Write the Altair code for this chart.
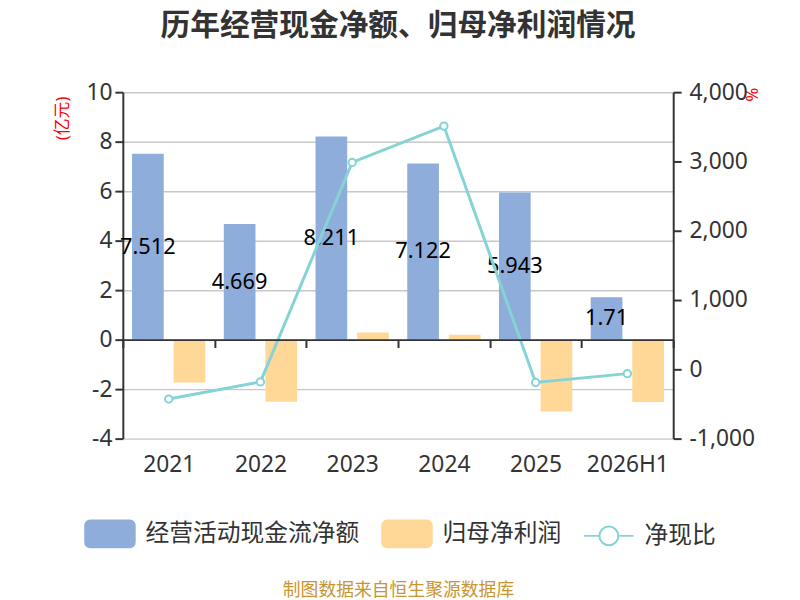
import altair as alt
import pandas as pd

# ---- data ----
cats = ["2021", "2022", "2023", "2024", "2025", "2026H1"]
ocf = [7.512, 4.669, 8.211, 7.122, 5.943, 1.71]
netprofit = [-1.73, -2.51, 0.29, 0.20, -2.90, -2.52]
ratio = [-429, -181, 2986, 3510, -190, -62]
series = ["经营活动现金流净额", "归母净利润", "净现比"]
left_ticks = [-4, -2, 0, 2, 4, 6, 8, 10]
right_ticks = [-1000, 0, 1000, 2000, 3000, 4000]

BLUE, ORANGE, CYAN = "#8eaddb", "#ffd898", "#86d3d6"
TXT = "#333333"
FONT = "Noto Sans, Noto Sans CJK SC, sans-serif"
HYPHEN = "replace(datum.label, '\u2212', '-')"

W, H = 556, 350
ydom = [-4, 10]
rdom = [-1000, 4000]
zero_pos = H * ydom[1] / (ydom[1] - ydom[0])   # pixel y of value 0 from top
zero_offset = -(H - zero_pos)                   # move bottom axis up to y = 0

bars_df = pd.DataFrame({
    "cat": cats * 2,
    "series": [series[0]] * len(cats) + [series[1]] * len(cats),
    "value": ocf + netprofit,
})
labels_df = pd.DataFrame({
    "cat": cats,
    "series": [series[0]] * len(cats),
    "value": ocf,
    "text": [f"{v:g}" for v in ocf],
})
line_df = pd.DataFrame({"cat": cats, "ratio": ratio})
legend_df = pd.DataFrame({"series": series})

xscale = alt.Scale(domain=cats, paddingInner=0, paddingOuter=0)
xoff_scale = alt.Scale(domain=series[:2], paddingInner=0.238, paddingOuter=0.222)
yscale = alt.Scale(domain=ydom, nice=False, zero=False)
rscale = alt.Scale(domain=rdom, nice=False, zero=False)

x_axis = alt.Axis(
    orient="bottom", offset=zero_offset, zindex=1,
    domain=True, domainColor=TXT, domainWidth=2,
    ticks=True, tickBand="extent", tickSize=8, tickWidth=2, tickColor=TXT,
    labels=True, labelFontSize=23, labelColor=TXT, labelAngle=0,
    labelBaseline="middle", labelPadding=118, grid=False,
    title="制图数据来自恒生聚源数据库", titleFontSize=18, titleColor="#c9952f",
    titleFontWeight="normal", titleY=253, titleBaseline="middle",
)

y_axis = alt.Axis(
    orient="left", values=left_ticks, grid=True, gridColor="#c8c8c8", gridWidth=1.5,
    domainColor=TXT, domainWidth=2, tickColor=TXT, tickWidth=2, tickSize=8,
    labelFontSize=23, labelColor=TXT, labelPadding=3, labelExpr=HYPHEN,
    title="(亿元)", titleColor="red", titleFontSize=17, titleFontWeight="normal",
    titleX=-61, titleY=26, titleAlign="center", titleBaseline="middle",
)

r_axis = alt.Axis(
    orient="right", values=right_ticks, format=",d", grid=False,
    domainColor=TXT, domainWidth=2, tickColor=TXT, tickWidth=2, tickSize=8,
    labelFontSize=23, labelColor=TXT, labelPadding=8, labelExpr=HYPHEN,
    title="%", titleColor="red", titleFontSize=17, titleFontWeight="normal",
    titleX=78, titleY=2, titleAngle=90, titleAlign="center", titleBaseline="middle",
)

bars = alt.Chart(bars_df).mark_bar().encode(
    x=alt.X("cat:N", scale=xscale, axis=x_axis, sort=cats),
    xOffset=alt.XOffset("series:N", scale=xoff_scale),
    y=alt.Y("value:Q", scale=yscale, axis=y_axis),
    color=alt.Color("series:N", scale=alt.Scale(domain=series[:2], range=[BLUE, ORANGE]), legend=None),
)

texts = alt.Chart(labels_df).transform_calculate(mid="datum.value / 2").mark_text(
    fontSize=22, color="black", align="center", baseline="middle"
).encode(
    x=alt.X("cat:N", scale=xscale, axis=x_axis, sort=cats),
    xOffset=alt.XOffset("series:N", scale=xoff_scale),
    y=alt.Y("mid:Q", scale=yscale, axis=y_axis),
    text="text:N",
)

rect_path = ("M-0.8,-0.54 H0.8 A0.2,0.2 0 0 1 1,-0.34 V0.34 A0.2,0.2 0 0 1 0.8,0.54 "
             "H-0.8 A0.2,0.2 0 0 1 -1,0.34 V-0.34 A0.2,0.2 0 0 1 -0.8,-0.54 Z")
lc_path = ("M-1,0 H-0.38 M0.38,0 H1 M-0.38,0 A0.38,0.38 0 1 1 0.38,0 "
           "A0.38,0.38 0 1 1 -0.38,0 Z")

leg = dict(
    orient="none", legendX=-39, legendY=420, direction="horizontal", title=None,
    symbolSize=2500, symbolStrokeWidth=2, labelFontSize=24, labelColor=TXT,
    labelOffset=10, columnPadding=19, labelLimit=400, padding=0,
)

legend_layer = alt.Chart(legend_df).transform_filter("false").mark_point(
    filled=True, opacity=1
).encode(
    fill=alt.Fill("series:N", scale=alt.Scale(domain=series, range=[BLUE, ORANGE, "white"]),
                  legend=alt.Legend(**leg)),
    stroke=alt.Stroke("series:N", scale=alt.Scale(domain=series, range=[BLUE, ORANGE, CYAN]),
                      legend=alt.Legend(**leg)),
    shape=alt.Shape("series:N", scale=alt.Scale(domain=series, range=[rect_path, rect_path, lc_path]),
                    legend=alt.Legend(**leg)),
)

line = alt.Chart(line_df).mark_line(color=CYAN, strokeWidth=3).encode(
    x=alt.X("cat:N", scale=xscale, axis=x_axis, sort=cats),
    y=alt.Y("ratio:Q", scale=rscale, axis=r_axis),
)
points = alt.Chart(line_df).mark_point(
    shape="circle", filled=True, fill="white", stroke=CYAN, strokeWidth=2, size=55, opacity=1
).encode(
    x=alt.X("cat:N", scale=xscale, axis=x_axis, sort=cats),
    y=alt.Y("ratio:Q", scale=rscale, axis=r_axis),
)

left = alt.layer(bars, texts, legend_layer)
right = alt.layer(line, points)

chart = alt.layer(left, right).resolve_scale(y="independent").properties(
    width=W, height=H,
    title=alt.Title("历年经营现金净额、归母净利润情况", fontSize=30, fontWeight="bold",
                    color=TXT, anchor="middle", offset=41),
    autosize=alt.AutoSizeParams(type="none"),
    padding={"left": 116, "top": 82, "right": 120, "bottom": 160},
).configure(font=FONT, background="white").configure_view(stroke=None)

chart.save("out.html", embed_options={"renderer": "svg", "actions": False})
